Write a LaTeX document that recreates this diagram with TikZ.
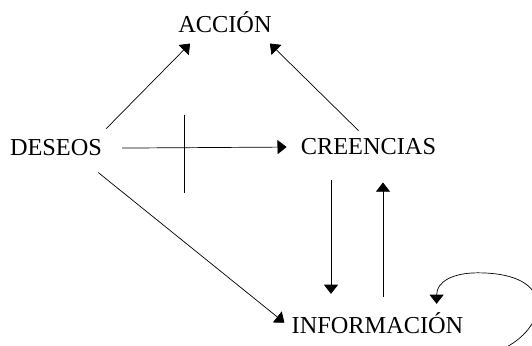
\documentclass[tikz,border=0pt]{standalone}
\usepackage{fontspec}
\setmainfont{Liberation Serif}
\usepackage{xcolor}
\usepackage{tikz}
\usetikzlibrary{arrows.meta,calc}

\begin{document}
\begin{tikzpicture}[x=0.025cm,y=-0.025cm,
		lbl/.style={inner sep=0pt,anchor=base,font=\fontsize{17.3}{20}\selectfont},
		arr/.style={-{Triangle[length=6.5pt,width=10pt]},line width=0.5pt}]
		%frame
		\useasboundingbox (0,0) rectangle (532,346);
		
		%nodes
		\node[lbl] (accion) at (225,33) {ACCIÓN};
		\node[lbl] (deseos) at (56,156) {DESEOS};
		\node[lbl] (creencias) at (368.5,155) {CREENCIAS};
		\node[lbl] (informacion) at (377.5,333) {INFORMACIÓN};
		
		%towards action
		\draw[arr] ($(deseos.north east)+(4,-11)$) -- ($(accion.south west)+(12,10)$);
		\draw[arr] ($(creencias.north)+(-10,-8)$) -- ($(accion.south east)+(-2,10)$);
		%desires to beliefs, blocked
		\draw[arr] ($(deseos.east)+(20,0)$) -- coordinate[pos=0.38] (cut) ($(creencias.west)+(-14,0)$);
		\draw[line width=0.5pt] (cut) ++(0,-33) -- ++(0,78);
		%towards information
		\draw[arr] ($(deseos.south east)+(-4,16)$) -- ($(informacion.west)+(-7,0)$);
		\draw[arr] ($(creencias.south)+(-37.5,24)$) -- ($(informacion.north)+(-46.5,-18)$);
		\draw[arr] ($(informacion.north)+(5.5,-15)$) -- ($(creencias.south)+(14.5,27)$);
		%self loop
		\draw[arr] ($(informacion.south east)+(42,14)$) .. controls +(42,-22) and +(80,0) .. ($(informacion.north east)+(14,-39)$) .. controls +(-25,0) and +(0,-22) .. ($(informacion.north east)+(-27,-8)$);
	\end{tikzpicture}
\end{document}
